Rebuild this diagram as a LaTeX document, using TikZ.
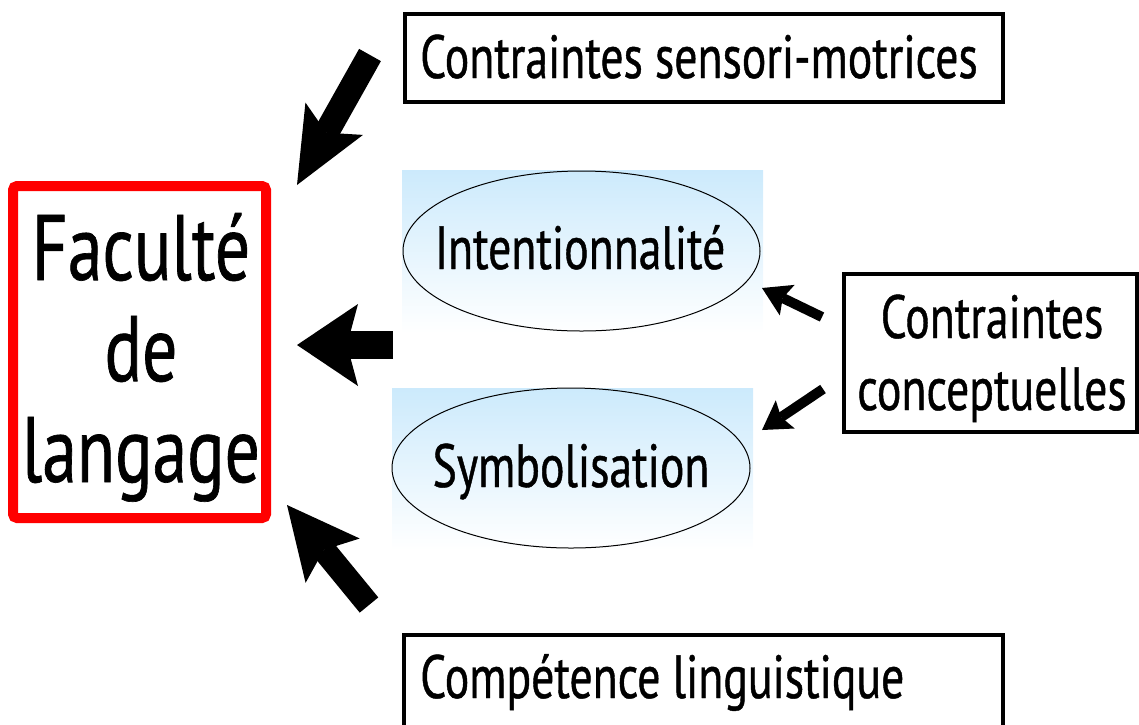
\documentclass[tikz,border=0pt]{standalone}
\usepackage{fontspec}
\newfontfamily\cf[FakeStretch=0.75,FakeBold=0.7]{PT Sans}
\usetikzlibrary{arrows.meta,shapes.geometric}
\definecolor{lightblue}{RGB}{204,234,252}
\begin{document}
\begin{tikzpicture}[x=1pt,y=-1pt,
  box/.style={draw=black, line width=4pt, rectangle, inner sep=0pt},
  redbox/.style={draw=red, line width=10pt, rectangle, rounded corners=4pt, inner sep=0pt},
  ell/.style={draw=black, line width=1pt, ellipse, inner sep=0pt},
  lbl/.style={font=\cf\fontsize{61}{72}\selectfont, inner sep=0pt, text=black},
  biglbl/.style={font=\cf\fontsize{93}{101}\selectfont, inner sep=0pt, align=center, text=black},
  bigarrow/.style={line width=#1, draw=black},
  smallarrow/.style={line width=10pt, draw=black, -{Stealth[length=28pt,width=34pt,inset=5pt,line width=0pt]}}
]
\useasboundingbox (0,0) rectangle (1139,724);
\clip (0,0) rectangle (1139,724);

% gradient backgrounds
\fill[top color=lightblue, bottom color=white, draw=none] (402,170) rectangle (763,333);
\fill[top color=lightblue, bottom color=white, draw=none] (392,388) rectangle (753,550);

% nodes
\node[redbox, minimum width=253pt, minimum height=332pt] (fac) at (139.5,352) {};
\node[biglbl, anchor=base] (fact) at (141,482) {Faculté\\de\\langage};

\node[box, minimum width=598pt, minimum height=88pt] (sm) at (704,58) {};
\node[lbl, anchor=base west] (smt) at (420,78) {Contraintes sensori-motrices};

\node[ell, minimum width=357pt, minimum height=160pt] (int) at (581.5,251) {};
\node[lbl, anchor=base] (intt) at (580,269) {Intentionnalité};

\node[ell, minimum width=358pt, minimum height=160pt] (sym) at (571,468) {};
\node[lbl, anchor=base] (symt) at (571,487) {Symbolisation};

\node[box, minimum width=293pt, minimum height=158pt] (cc) at (990.5,353) {};
\node[lbl, anchor=base, align=center] (cct) at (992,410) {Contraintes\\conceptuelles};

\node[box, minimum width=599pt, minimum height=130pt] (cl) at (703.5,700) {};
\node[lbl, anchor=base west] (clt) at (420,698) {Compétence linguistique};

% arrow end points
\coordinate (a1s) at (370,55);  \coordinate (a1e) at (297,185);
\coordinate (a2s) at (393,345); \coordinate (a2e) at (297,345);
\coordinate (a3s) at (369,605); \coordinate (a3e) at (287,505);
\coordinate (a4s) at (822,317); \coordinate (a4e) at (762,288);
\coordinate (a5s) at (823,389); \coordinate (a5e) at (762,430);

\draw[bigarrow=25pt, -{Stealth[length=76pt,width=66pt,inset=16pt,line width=0pt]}] (a1s) -- (a1e);
\draw[bigarrow=28pt, -{Stealth[length=61pt,width=82pt,inset=11pt,line width=0pt]}] (a2s) -- (a2e);
\draw[bigarrow=24pt, -{Stealth[length=72pt,width=70pt,inset=14pt,line width=0pt]}] (a3s) -- (a3e);
\draw[smallarrow] (a4s) -- (a4e);
\draw[smallarrow] (a5s) -- (a5e);
\end{tikzpicture}
\end{document}
